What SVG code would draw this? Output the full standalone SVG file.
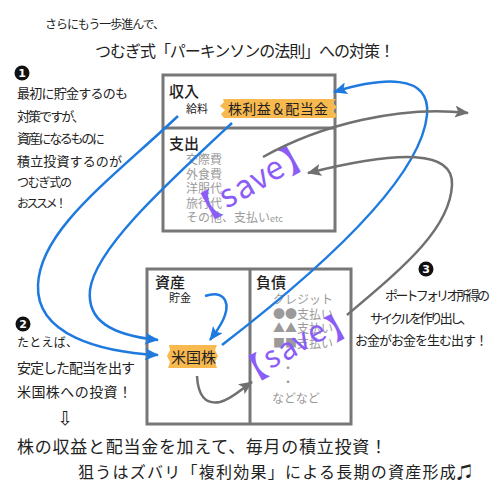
<svg xmlns="http://www.w3.org/2000/svg" width="500" height="500" viewBox="0 0 500 500">
<defs>
<style>
text{font-family:"Noto Sans CJK JP","DejaVu Sans",sans-serif;fill:#222}
.h{font-size:15px;font-weight:500}
.g{font-size:12px;fill:#9a9a9a}
.box{fill:#fff;stroke:#777;stroke-width:3}
.div{stroke:#777;stroke-width:3}
.tape{fill:#f8b94f}
.save{fill:#8b5cf6}
.blue{fill:none;stroke:#1f7ae0;stroke-width:2.5}
.gray{fill:none;stroke:#707070;stroke-width:2.5}
.nc{fill:#111}
.nt{fill:#fff;font-family:"DejaVu Sans",sans-serif;font-size:11px;font-weight:bold;text-anchor:middle}
</style>
<marker id="ab" markerWidth="14" markerHeight="12" refX="13" refY="6" orient="auto" markerUnits="userSpaceOnUse"><path d="M0,0 L14,6 L0,12 L3,6 Z" fill="#1f7ae0"/></marker>
<marker id="ag" markerWidth="14" markerHeight="12" refX="13" refY="6" orient="auto" markerUnits="userSpaceOnUse"><path d="M0,0 L14,6 L0,12 L3,6 Z" fill="#707070"/></marker>
</defs>
<rect width="500" height="500" fill="#fff"/>

<g id="title">
<text x="45" y="29" font-size="12" textLength="120">さらにもう一歩進んで、</text>
<text x="95" y="57" font-size="16" textLength="300">つむぎ式「パーキンソンの法則」への対策！</text>
</g>

<g id="note1">
<circle class="nc" cx="22" cy="73" r="7.5"/>
<text class="nt" x="22" y="77">1</text>
<text x="17" y="98" font-size="13" textLength="111">最初に貯金するのも</text>
<text x="17" y="121" font-size="13" textLength="68">対策ですが、</text>
<text x="17" y="143" font-size="13" textLength="88">資産になるものに</text>
<text x="17" y="166" font-size="13" textLength="105">積立投資するのが</text>
<text x="17" y="187" font-size="12" textLength="55">つむぎ式の</text>
<text x="17" y="208" font-size="12" textLength="50">おススメ！</text>
</g>

<g id="note2">
<circle class="nc" cx="23" cy="324" r="7.5"/>
<text class="nt" x="23" y="328">2</text>
<text x="17" y="347" font-size="12" textLength="61">たとえば、</text>
<text x="17" y="373" font-size="14" textLength="118">安定した配当を出す</text>
<text x="17" y="397" font-size="14" textLength="115">米国株への投資！</text>
<text x="57" y="425" font-size="19" style="font-family:'DejaVu Sans',sans-serif">⇩</text>
</g>

<g id="note3">
<circle class="nc" cx="426" cy="269" r="7.5"/>
<text class="nt" x="426" y="273">3</text>
<text x="385" y="300" font-size="13" textLength="105">ポートフォリオ所得の</text>
<text x="370" y="323" font-size="13" textLength="103">サイクルを作り出し、</text>
<text x="355" y="345" font-size="13" textLength="133">お金がお金を生む出す！</text>
</g>

<g id="summary">
<text x="17" y="453" font-size="17" textLength="370">株の収益と配当金を加えて、毎月の積立投資！</text>
<text x="78" y="478" font-size="16" textLength="395">狙うはズバリ「複利効果」による長期の資産形成♫</text>
</g>

<g id="pl">
<rect class="box" x="163" y="75" width="172" height="156"/>
<line class="div" x1="163" y1="128" x2="335" y2="128"/>
<text class="h" x="169" y="97">収入</text>
<text x="186" y="113" font-size="11">給料</text>
<path class="tape" d="M223 99 L336 99 L333 103 L337 107 L333 111 L337 115 L335 118 L224 118 L221 114 L225 110 L220 106 L224 102 Z"/>
<text x="228" y="114" font-size="14" textLength="100">株利益＆配当金</text>
<text class="h" x="169" y="149">支出</text>
<text class="g" x="186" y="164">交際費</text>
<text class="g" x="186" y="178.5">外食費</text>
<text class="g" x="186" y="193">洋服代</text>
<text class="g" x="186" y="207.5">旅行代</text>
<text class="g" x="186" y="222">その他、支払い<tspan font-size="9">etc</tspan></text>
<text class="save" font-size="32" x="194.9 226.6 241.5 257.2 271.5 289.9" y="227.3 209.1 200.8 191.4 182.8 174.6" rotate="-29">【save】</text>
</g>

<g id="bs">
<rect class="box" x="147" y="269" width="204" height="155"/>
<line class="div" x1="250" y1="269" x2="250" y2="424"/>
<text class="h" x="155" y="288">資産</text>
<text x="169" y="302" font-size="11">貯金</text>
<path class="tape" d="M169 345 L217 345 L215 350 L218 356 L215 362 L217 368 L168 368 L170 362 L167 356 L170 350 Z"/>
<text x="171" y="363" font-size="15">米国株</text>
<text class="h" x="256" y="288">負債</text>
<text class="g" x="273" y="304">クレジット</text>
<text class="g" x="273" y="318.5">●●支払い</text>
<text class="g" x="273" y="333">▲▲支払い</text>
<text class="g" x="273" y="347.5">■■支払い</text>
<text class="g" x="282" y="373">・</text>
<text class="g" x="282" y="387">・</text>
<text class="g" x="272" y="403">などなど</text>
<text class="save" font-size="30" x="243.3 270.3 285.1 298.8 314.1 334.4" y="387.9 369.5 362.1 353.2 345.1 341.1" rotate="-29">【save】</text>
</g>

<g id="connectors">
<path class="blue" marker-end="url(#ab)" d="M178 116 C110 180 40 230 38 285 C36 335 100 352 158 355"/>
<path class="blue" marker-end="url(#ab)" d="M232 123 C160 190 95 250 90 290 C87 320 110 335 158 340"/>
<path class="blue" marker-end="url(#ab)" d="M205 296 C222 290 230 300 225 315 C222 325 216 332 210 340"/>
<path class="blue" marker-end="url(#ab)" d="M222 345 C300 285 420 185 427 115 C431 72 380 78 334 92"/>
<path class="gray" marker-end="url(#ag)" d="M263 157 C320 125 400 105 468 113"/>
<path class="gray" marker-end="url(#ag)" d="M347 315 C400 270 450 230 452 185 C454 150 400 150 308 173"/>
<path class="gray" marker-end="url(#ag)" d="M197 376 C198 395 205 405 220 402 C232 399 240 390 252 382"/>
</g>
</svg>
